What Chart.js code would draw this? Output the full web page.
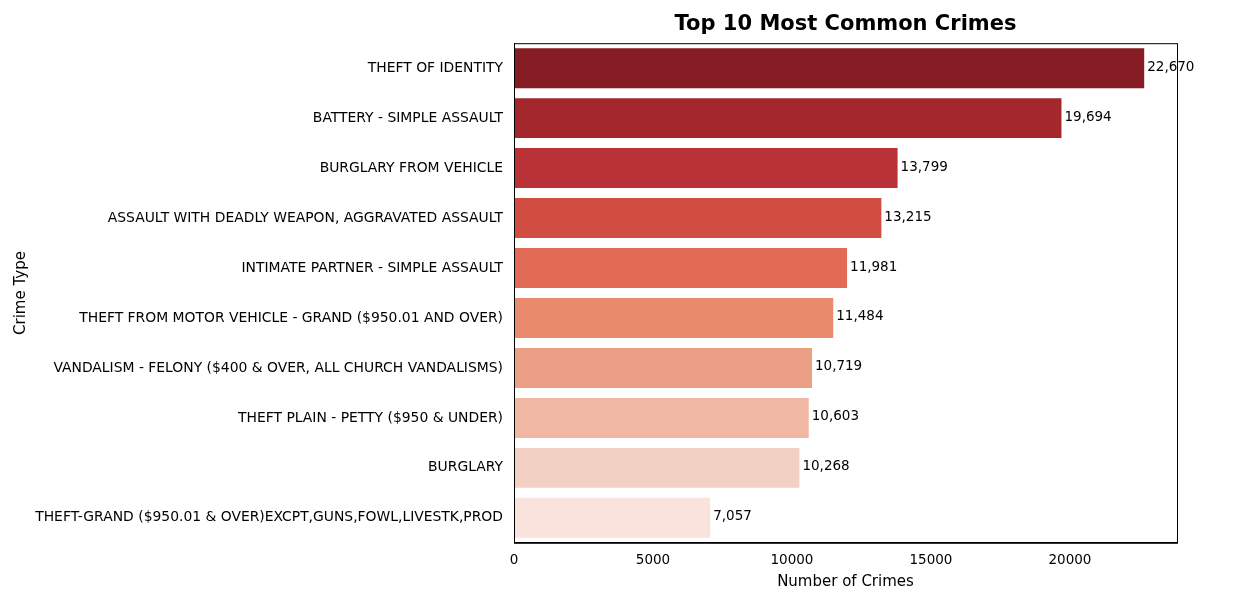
<!DOCTYPE html>
<html><head><meta charset="utf-8">
<script src="https://cdn.jsdelivr.net/npm/chart.js@4"></script>
<style>html,body{margin:0;background:#fff}#wrap{width:1260px;height:595px}</style>
</head><body><div id="wrap"><canvas id="c" width="1260" height="595"></canvas></div>
<script>
const crimes = ["THEFT OF IDENTITY","BATTERY - SIMPLE ASSAULT","BURGLARY FROM VEHICLE","ASSAULT WITH DEADLY WEAPON, AGGRAVATED ASSAULT","INTIMATE PARTNER - SIMPLE ASSAULT","THEFT FROM MOTOR VEHICLE - GRAND ($950.01 AND OVER)","VANDALISM - FELONY ($400 & OVER, ALL CHURCH VANDALISMS)","THEFT PLAIN - PETTY ($950 & UNDER)","BURGLARY","THEFT-GRAND ($950.01 & OVER)EXCPT,GUNS,FOWL,LIVESTK,PROD"];
const counts = [22670,19694,13799,13215,11981,11484,10719,10603,10268,7057];
const xTicks = [0,5000,10000,15000,20000];
const barColors = ["#851b23","#a3272d","#bb3236","#d24d41","#e26b55","#ea8a6d","#eba086","#f0b8a3","#f3d0c4","#f9e3dc"];

Chart.defaults.font.family = "DejaVu Sans";
Chart.defaults.color = "#000";

const labelPlugin = {
  id: "vals",
  afterDatasetsDraw(chart) {
    const ctx = chart.ctx;
    const meta = chart.getDatasetMeta(0);
    ctx.save();
    ctx.font = "13.5px DejaVu Sans";
    ctx.fillStyle = "#000";
    ctx.textBaseline = "middle";
    meta.data.forEach((bar, i) => {
      ctx.fillText(counts[i].toLocaleString("en-US"), bar.x + 3, bar.y - 1);
    });
    ctx.restore();
  }
};
const borderPlugin = {
  id: "frame",
  afterDraw(chart) {
    const a = chart.chartArea, ctx = chart.ctx;
    ctx.save(); ctx.strokeStyle = "#000"; ctx.lineWidth = 1;
    ctx.strokeRect(a.left + 0.5, a.top + 0.5, a.right - a.left, a.bottom - a.top);
    ctx.restore();
  }
};

new Chart(document.getElementById("c"), {
  type: "bar",
  data: { labels: crimes, datasets: [{ data: counts, backgroundColor: barColors, categoryPercentage: 1, barPercentage: 0.8 }] },
  options: {
    indexAxis: "y", responsive: false, animation: false,
    layout: { padding: { top: 8, right: 83, bottom: 0, left: 8 } },
    plugins: {
      legend: { display: false }, tooltip: { enabled: false },
      title: { display: true, fullSize: false, text: "Top 10 Most Common Crimes", font: { size: 21, weight: "bold" }, padding: { top: 4, bottom: 6 } }
    },
    scales: {
      x: {
        min: 0, max: 23850, grid: { display: false }, border: { color: "#000" },
        afterBuildTicks(s) { s.ticks = xTicks.map(v => ({ value: v })); },
        ticks: { autoSkip: false, maxRotation: 0, font: { size: 13.5 }, padding: 2, callback: v => String(v) },
        title: { display: true, text: "Number of Crimes", font: { size: 15 }, padding: { top: 2, bottom: 4 } }
      },
      y: {
        grid: { display: false }, border: { color: "#000" },
        ticks: { font: { size: 13.9 }, autoSkip: false },
        title: { display: true, text: "Crime Type", font: { size: 15 } },
        afterFit(s) { s.width = 506; }
      }
    }
  },
  plugins: [labelPlugin, borderPlugin]
});
</script></body></html>
